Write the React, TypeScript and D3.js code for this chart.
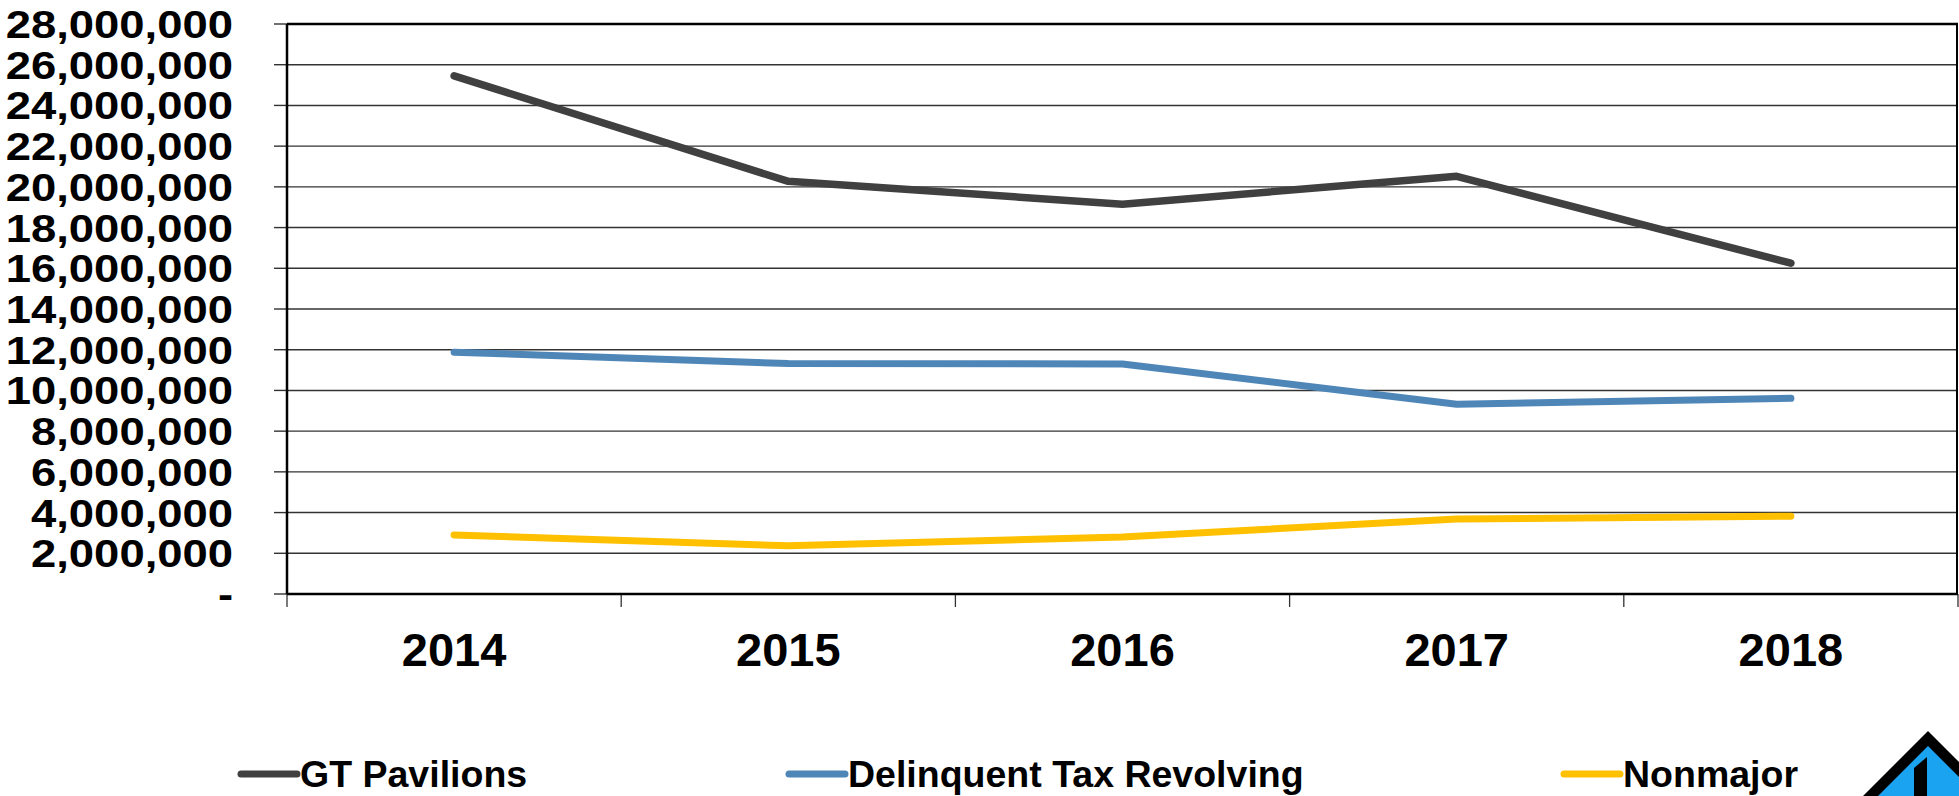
import React from "react";
import * as d3 from "d3";

const years = ["2014", "2015", "2016", "2017", "2018"];
const gtPavilions = [25450000, 20270000, 19150000, 20520000, 16250000];
const delinquentTax = [11880000, 11320000, 11300000, 9320000, 9610000];
const nonmajor = [2900000, 2370000, 2800000, 3680000, 3820000];
const yTicks = [0, 2000000, 4000000, 6000000, 8000000, 10000000, 12000000, 14000000, 16000000, 18000000, 20000000, 22000000, 24000000, 26000000, 28000000];

const seriesNames = ["GT Pavilions", "Delinquent Tax Revolving", "Nonmajor"];
const seriesColors = ["#404040", "#4F86B8", "#FFC000"];
const seriesWidths = [7.5, 7, 7];

const W = 1959;
const H = 796;
const L = 287;
const R = 1958;
const T = 24;
const B = 594;
const FONT = "'Liberation Sans', Arial, sans-serif";

export default function App() {
  const x = d3.scaleBand<string>().domain(years).range([L, R]);
  const y = d3.scaleLinear().domain([0, 28000000]).range([B, T]);
  const fmt = d3.format(",");
  const line = d3
    .line<number>()
    .x((_, i) => (x(years[i]) as number) + x.bandwidth() / 2)
    .y((d) => y(d));
  const series = [gtPavilions, delinquentTax, nonmajor];
  const bounds = years.map((yr) => x(yr) as number).concat([R]);
  const legendX = [241, 789, 1564];

  return (
    <svg
      width={W}
      height={H}
      style={{ position: "absolute", left: 0, top: 0, background: "#fff" }}
      fontFamily={FONT}
    >
      <rect x={0} y={0} width={W} height={H} fill="#fff" />
      {yTicks.map((t) => (
        <g key={t}>
          <line x1={L} x2={R} y1={y(t)} y2={y(t)} stroke="#333" strokeWidth={1.4} />
          <line x1={274} x2={L} y1={y(t)} y2={y(t)} stroke="#333" strokeWidth={1.4} />
          <text
            transform={`translate(233, ${y(t) + 14}) scale(1.15, 1)`}
            textAnchor="end"
            fontWeight="bold"
            fontSize={39.5}
            fill="#000"
          >
            {t === 0 ? "-" : fmt(t)}
          </text>
        </g>
      ))}
      {bounds.map((bx, i) => (
        <line key={i} x1={bx} x2={bx} y1={B} y2={607} stroke="#333" strokeWidth={1.3} />
      ))}
      <line x1={L} x2={R} y1={T} y2={T} stroke="#000" strokeWidth={2.5} />
      <line x1={R - 1} x2={R - 1} y1={T} y2={B} stroke="#000" strokeWidth={2} />
      <line x1={L} x2={L} y1={T} y2={B} stroke="#000" strokeWidth={2.5} />
      <line x1={L} x2={R} y1={B} y2={B} stroke="#000" strokeWidth={2.5} />
      {years.map((yr) => (
        <text
          key={yr}
          x={(x(yr) as number) + x.bandwidth() / 2}
          y={666}
          textAnchor="middle"
          fontWeight="bold"
          fontSize={47}
          fill="#000"
        >
          {yr}
        </text>
      ))}
      {series.map((s, i) => (
        <path
          key={i}
          d={line(s) as string}
          fill="none"
          stroke={seriesColors[i]}
          strokeWidth={seriesWidths[i]}
          strokeLinecap="round"
          strokeLinejoin="round"
        />
      ))}
      {seriesNames.map((n, i) => (
        <g key={n}>
          <line
            x1={legendX[i]}
            x2={legendX[i] + 56}
            y1={774}
            y2={774}
            stroke={seriesColors[i]}
            strokeWidth={7}
            strokeLinecap="round"
          />
          <text x={legendX[i] + 59} y={787} fontWeight="bold" fontSize={37.5} fill="#000">
            {n}
          </text>
        </g>
      ))}
      <path d="M1863,796 L1928,731 L1993,796 Z" fill="#000" />
      <path d="M1878,796 L1928,746 L1978,796 Z" fill="#1AA3F0" />
      <path d="M1914,768 L1927,757 L1927,796 L1914,796 Z" fill="#000" />
    </svg>
  );
}
